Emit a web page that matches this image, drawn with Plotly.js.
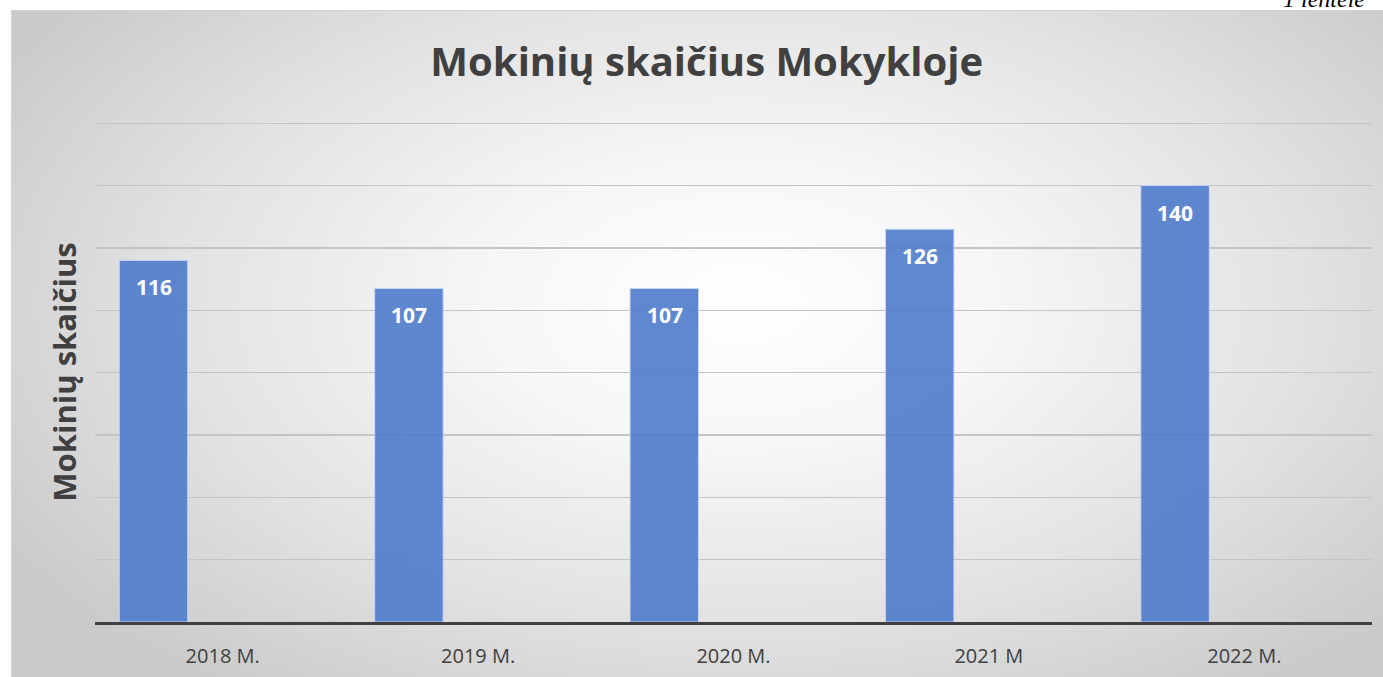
<!DOCTYPE html>
<html>
<head>
<meta charset="utf-8">
<script src="https://cdn.plot.ly/plotly-3.0.1.min.js"></script>
<style>
  html, body { margin:0; padding:0; width:1383px; height:677px; overflow:hidden; background:#ffffff; }
  #frame { position:absolute; left:11px; top:10px; width:1400px; height:700px;
    border:1px solid #d2d2d2;
    background: radial-gradient(ellipse 62% 70% at 52% 42%, #ffffff 0%, #f6f6f6 30%, #e2e2e2 65%, #c9c9c9 100%); }
  #chart { position:absolute; left:0; top:0; width:1383px; height:677px; }
  #note { position:absolute; left:1283px; top:-14px; white-space:nowrap; font-family:"Liberation Serif", serif; font-style:italic; font-size:24px; color:#000; }
</style>
</head>
<body>
<div id="frame"></div>
<div id="note">1 lentelė</div>
<div id="chart"></div>
<script>
const categories = ["2018 M.", "2019 M.", "2020 M.", "2021 M", "2022 M."];
const values = [116, 107, 107, 126, 140];
const valueLabels = ["116", "107", "107", "126", "140"];
const chartTitle = "Mokinių skaičius Mokykloje";
const yTitle = "Mokinių skaičius";

const trace = {
  type: "bar",
  x: categories,
  y: values,
  width: 0.268,
  offset: -0.405,
  marker: { color: "rgba(79,123,204,0.9)", line: { color: "rgba(200,215,245,0.9)", width: 1 } },
  hoverinfo: "skip"
};

const annotations = categories.map((c, i) => ({
  x: c, y: values[i], xref: "x", yref: "y",
  text: "<b>" + valueLabels[i] + "</b>",
  showarrow: false, xshift: -69, yshift: -27,
  font: { family: "Open Sans, sans-serif", size: 21, color: "#ffffff" }
}));

const layout = {
  width: 1383, height: 677,
  margin: { l: 95, r: 11, t: 122, b: 55 },
  paper_bgcolor: "rgba(0,0,0,0)",
  plot_bgcolor: "rgba(0,0,0,0)",
  showlegend: false,
  title: { text: "<b>" + chartTitle + "</b>", x: 0.511, xanchor: "center", y: 0.908, yanchor: "middle",
    font: { family: "Open Sans, sans-serif", size: 40, color: "#404040" } },
  xaxis: {
    type: "category", showgrid: false, showline: true, linecolor: "#404040", linewidth: 3,
    ticks: "", tickfont: { family: "Open Sans, sans-serif", size: 20, color: "#404040" },
    ticklabelstandoff: 14
  },
  yaxis: {
    range: [0, 160.4], dtick: 20, showticklabels: false, ticks: "",
    gridcolor: "#c4c4c4", gridwidth: 1.5, zeroline: false,
    title: { text: "<b>" + yTitle + "</b>", standoff: 8,
      font: { family: "Open Sans, sans-serif", size: 31, color: "#404040" } }
  },
  annotations: annotations
};

Plotly.newPlot("chart", [trace], layout, { displayModeBar: false, staticPlot: true });
</script>
</body>
</html>
